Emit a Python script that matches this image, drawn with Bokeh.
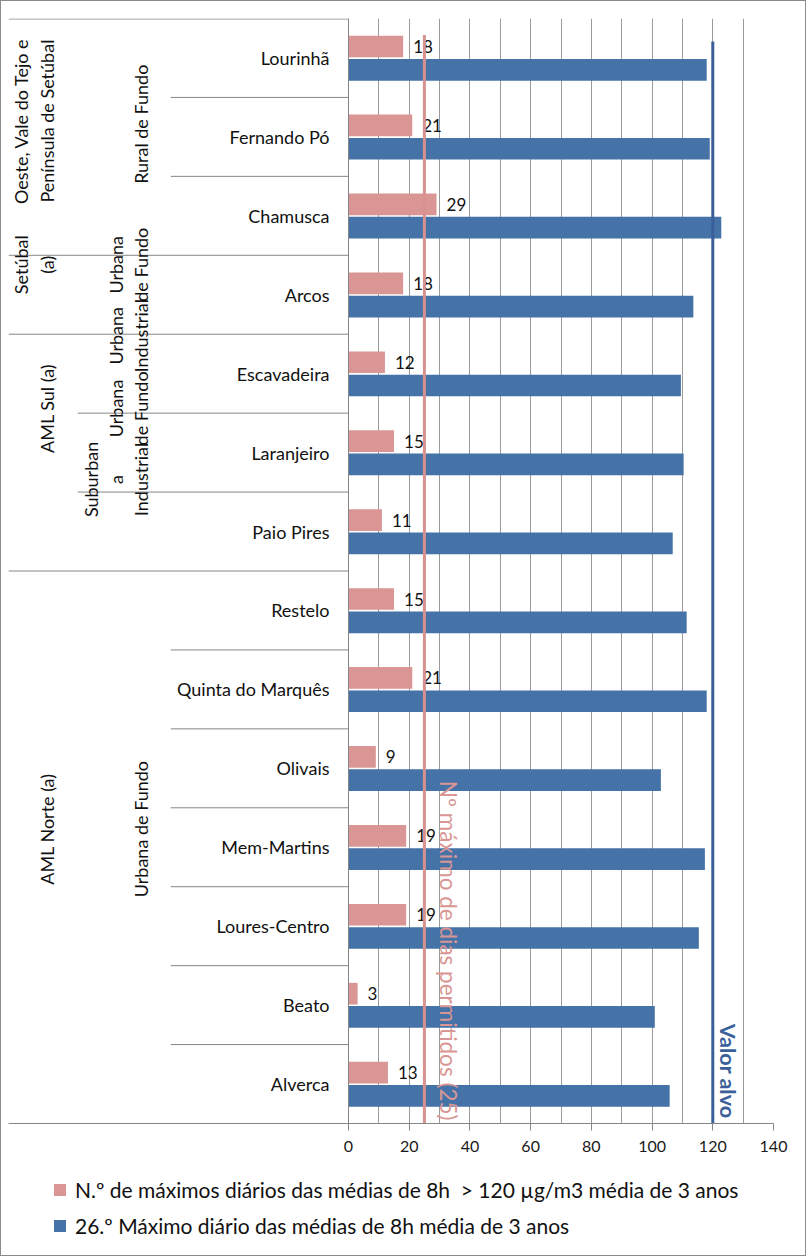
import math
from bokeh.plotting import figure
from bokeh.layouts import column
from bokeh.models import Range1d, FixedTicker, Legend, LegendItem, ColumnDataSource
from bokeh.core.properties import value
from bokeh.embed import file_html
from bokeh.resources import INLINE

# ---------------- data ----------------
stations = ["Lourinhã", "Fernando Pó", "Chamusca", "Arcos", "Escavadeira", "Laranjeiro",
            "Paio Pires", "Restelo", "Quinta do Marquês", "Olivais", "Mem-Martins",
            "Loures-Centro", "Beato", "Alverca"]
n_days = [18, 21, 29, 18, 12, 15, 11, 15, 21, 9, 19, 19, 3, 13]
max26 = [118.0, 119.0, 122.8, 113.6, 109.5, 110.4, 106.8, 111.4, 118.0, 102.9, 117.4,
         115.4, 100.9, 105.8]
station_types = ["Rural de Fundo", "Urbana\nde Fundo", "Urbana\nIndustrial", "Urbana\nde Fundo",
                 "Suburban\na\nIndustrial", "Urbana de Fundo"]
type_spans = [(0, 3), (3, 4), (4, 5), (5, 6), (6, 7), (7, 14)]
regions = ["Oeste, Vale do Tejo e\nPenínsula de Setúbal", "Setúbal\n(a)", "AML Sul (a)", "AML Norte (a)"]
region_spans = [(0, 3), (3, 4), (4, 7), (7, 14)]
x_ticks = [0, 20, 40, 60, 80, 100, 120, 140]
grid_ticks = [0, 10, 20, 30, 40, 50, 60, 70, 80, 90, 100, 110, 120, 130, 140]
days_limit = 25
target_value = 120
name_days = "N.º de máximos diários das médias de 8h  > 120 µg/m3 média de 3 anos"
name_max = "26.º Máximo diário das médias de 8h média de 3 anos"
label_limit = "Nº máximo de dias permitidos (25)"
label_target = "Valor alvo"

# ---------------- layout / style ----------------
PINK = "#D99694"
BLUE = "#4572A7"
PINK_LINE = "#D7918F"
BLUE_LINE = "#3A5F9A"
GRAY = "#868686"
FONT = "Lato"

W = 804
FRAME_W, FRAME_H = 765, 1105
B_LEFT, B_TOP, B_BOTTOM = 7, 17, 40
MAIN_H = B_TOP + FRAME_H + B_BOTTOM
LEG_H = 1254 - MAIN_H
LEFT_PX = 340                      # width of the category-label area (px)
XMAX = 140
ppu = (FRAME_W - LEFT_PX) / XMAX    # px per unit
x_start = -LEFT_PX / ppu
N = len(stations)

def ux(px):
    return px / ppu

# label shifts (category units, upward) mimicking Excel placement
type_shift = [0.16, 0.38, 0.48, 0.56, 0.66, 0.23]
region_shift = [0.20, 0.38, 0.56, 0.23]

p = figure(frame_width=FRAME_W, frame_height=FRAME_H,
           x_range=Range1d(x_start, XMAX), y_range=Range1d(N, 0),
           output_backend="svg", toolbar_location=None, y_axis_location=None,
           min_border_left=B_LEFT, min_border_right=W - FRAME_W - B_LEFT,
           min_border_top=B_TOP, min_border_bottom=B_BOTTOM)
p.outline_line_color = None
p.background_fill_color = "white"
p.border_fill_color = "white"

p.xgrid.ticker = FixedTicker(ticks=grid_ticks)
p.xgrid.grid_line_color = "#9a9a9a"
p.ygrid.visible = False

ax = p.xaxis[0]
ax.ticker = FixedTicker(ticks=x_ticks)
ax.axis_line_color = GRAY
ax.major_tick_line_color = GRAY
ax.major_tick_out = 7
ax.major_tick_in = 0
ax.minor_tick_line_color = None
ax.major_label_standoff = 10
ax.major_label_text_font = FONT
ax.major_label_text_font_size = "16px"
ax.major_label_text_color = "#1a1a1a"

ys = [i + 0.5 for i in range(N)]
src = ColumnDataSource(dict(st=stations, days=n_days, mx=max26,
                            yp=[y - 0.145 for y in ys], yb=[y + 0.15 for y in ys],
                            lbl=[str(v) for v in n_days]))

r_pink = p.hbar(y="yp", right="days", left=0, height=0.275, source=src,
                fill_color=PINK, line_color=None)
r_blue = p.hbar(y="yb", right="mx", left=0, height=0.275, source=src,
                fill_color=BLUE, line_color=None)

# data labels
p.text(x="days", y="yp", text="lbl", source=src, x_offset=10,
       text_font=value(FONT), text_font_size="17px", text_color="#111111",
       text_baseline="middle", text_align="left")

# y axis line
p.segment(x0=[0], y0=[0], x1=[0], y1=[N], line_color=GRAY, line_width=1)

# separators
region_bounds = {s for s, e in region_spans} | {e for s, e in region_spans}
type_bounds = {s for s, e in type_spans} | {e for s, e in type_spans}
x0s, ys0 = [], []
for b in range(0, N):
    if b in region_bounds:
        x0s.append(x_start)
    elif b in type_bounds:
        x0s.append(ux(-270.7))
    else:
        x0s.append(ux(-177.7))
    ys0.append(b + (0.006 if b == 0 else 0))
p.segment(x0=x0s, y0=ys0, x1=[0] * len(x0s), y1=ys0, line_color=GRAY, line_width=1)

# station names
p.text(x=0, y="yc", text="st",
       source=ColumnDataSource(dict(st=stations, yc=ys)), x_offset=-19,
       text_font=value(FONT), text_font_size="18px", text_color="#111111",
       text_align="right", text_baseline="middle")

# station type labels (rotated)
p.text(x=ux(-196.5), y=[(s + e) / 2 - sh for (s, e), sh in zip(type_spans, type_shift)],
       text=station_types, angle=math.pi / 2,
       text_font=value(FONT), text_font_size="18px", text_color="#111111",
       text_align="center", text_baseline="bottom", text_line_height=1.14)

# region labels (rotated)
p.text(x=ux(-290.5), y=[(s + e) / 2 - sh for (s, e), sh in zip(region_spans, region_shift)],
       text=regions, angle=math.pi / 2,
       text_font=value(FONT), text_font_size="18px", text_color="#111111",
       text_align="center", text_baseline="bottom", text_line_height=1.2)

# reference lines
p.segment(x0=[days_limit], y0=[0.21], x1=[days_limit], y1=[N], line_color=PINK_LINE, line_width=3)
p.segment(x0=[target_value], y0=[0.29], x1=[target_value], y1=[N], line_color=BLUE_LINE, line_width=3)

p.text(x=[days_limit], y=[N], text=[label_limit], angle=-math.pi / 2,
       x_offset=24, y_offset=-3,
       text_font=value(FONT), text_font_size="22.5px", text_color=PINK,
       text_align="right", text_baseline="middle")
p.text(x=[target_value], y=[N], text=[label_target], angle=-math.pi / 2,
       x_offset=15, y_offset=-5,
       text_font=value(FONT), text_font_size="21.5px", text_color=BLUE_LINE,
       text_font_style="bold",
       text_align="right", text_baseline="middle")

# ---------------- legend (separate strip below) ----------------
pl = figure(width=W, height=LEG_H, x_range=Range1d(0, 1), y_range=Range1d(0, 1),
            output_backend="svg", toolbar_location=None,
            x_axis_location=None, y_axis_location=None,
            min_border=0)
pl.outline_line_color = None
pl.grid.visible = False
off = ColumnDataSource(dict(y=[-5.0], r=[1.0]))   # keys only, drawn outside the view
lr_pink = pl.hbar(y="y", right="r", left=0, height=0.1, source=off,
                  fill_color=PINK, line_color=None)
lr_blue = pl.hbar(y="y", right="r", left=0, height=0.1, source=off,
                  fill_color=BLUE, line_color=None)
legend = Legend(items=[LegendItem(label=name_days, renderers=[lr_pink]),
                       LegendItem(label=name_max, renderers=[lr_blue])],
                location=(44, 17), orientation="vertical")
legend.border_line_color = None
legend.background_fill_alpha = 0
legend.label_text_font = FONT
legend.label_text_font_size = "21px"
legend.label_text_color = "#111111"
legend.glyph_width = 15
legend.glyph_height = 15
legend.label_height = 24
legend.label_standoff = 8
legend.spacing = 11
legend.padding = 0
legend.margin = 0
pl.add_layout(legend)

layout = column(p, pl, spacing=0, styles={"border": "1px solid #8a8a8a"})
open("out.html", "w").write(file_html(layout, INLINE))
